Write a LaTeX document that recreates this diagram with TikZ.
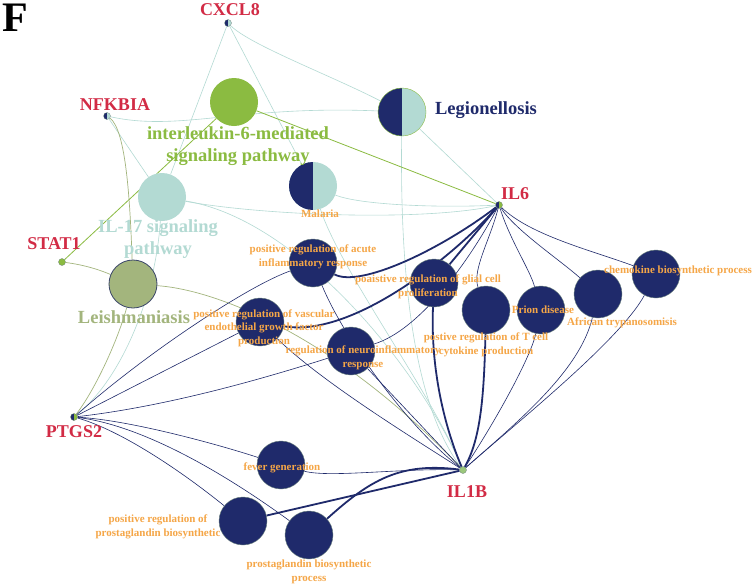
\documentclass[tikz,border=0pt]{standalone}
\usepackage{fontspec}
\setmainfont{Liberation Serif}
\usetikzlibrary{backgrounds}
\definecolor{cNavy}{HTML}{1F2A6B}
\definecolor{cTeal}{HTML}{B3DAD3}
\definecolor{cGreen}{HTML}{8BBB41}
\definecolor{cOlive}{HTML}{A3B57D}
\definecolor{cRed}{HTML}{D22B45}
\definecolor{cOrange}{HTML}{F5A647}
\definecolor{cOutline}{HTML}{6F8580}
\definecolor{cLeishLine}{HTML}{3A4568}
\tikzset{
  term/.style={circle, minimum size=48pt, inner sep=0pt, draw=cOutline, line width=0.4pt, fill=cNavy},
  halfnavy/.style={path picture={\fill[cNavy] (path picture bounding box.south west) rectangle (path picture bounding box.north);}},
  gene/.style={circle, minimum size=7pt, inner sep=0pt, draw=cOutline, line width=0.3pt},
  genelab/.style={text=cRed, font=\fontsize{18}{20}\selectfont\bfseries, inner sep=0pt},
  golab/.style={text=cOrange, font=\fontsize{11}{13.5}\selectfont\bfseries, align=center, inner sep=0pt},
  biglab/.style={font=\fontsize{18.5}{22}\selectfont\bfseries, align=center, inner sep=0pt},
  tealE/.style={draw=cTeal, line width=0.6pt},
  greenE/.style={draw=cGreen, line width=0.8pt},
  oliveE/.style={draw=cOlive, line width=0.7pt},
  navyE/.style={draw=cNavy, line width=0.6pt},
  navyT/.style={draw=cNavy, line width=1.8pt}
}
\begin{document}
\begin{tikzpicture}[x=1pt, y=-1pt]
\useasboundingbox (0,0) rectangle (755,587);
% gene nodes
\node[gene, fill=cTeal, halfnavy] (cxcl8) at (228,23) {};
\node[gene, fill=cTeal, halfnavy] (nfkbia) at (107,116) {};
\node[gene, fill=cGreen] (stat1) at (62,262) {};
\node[gene, fill=cGreen, halfnavy] (il6) at (499,205) {};
\node[gene, fill=cGreen, halfnavy] (ptgs2) at (74,417) {};
\node[gene, fill=cGreen!60!cTeal] (il1b) at (463,470) {};
% pathway circles
\node[term, fill=cGreen, draw=none] (il6p) at (234,102) {};
\node[term, fill=cTeal, draw=cGreen, halfnavy] (legio) at (402,112) {};
\node[term, fill=cTeal, draw=none, halfnavy] (malaria) at (313,186) {};
\node[term, fill=cTeal, draw=none] (il17) at (162,197) {};
\node[term, fill=cOlive, draw=cLeishLine, line width=0.8pt] (leish) at (133,284) {};
\node[term] (acute) at (313,263) {};
\node[term] (glial) at (434,283) {};
\node[term] (vasc) at (260,322) {};
\node[term] (neuro) at (351,351) {};
\node[term] (tcell) at (486,310) {};
\node[term] (prion) at (541,310) {};
\node[term] (afr) at (598,294) {};
\node[term] (chemo) at (656,274) {};
\node[term] (fever) at (281,465) {};
\node[term] (pgreg) at (243,521) {};
\node[term] (pgproc) at (309,535) {};
% edges
\begin{scope}[on background layer]
\fill[white] (0,0) rectangle (755,587);
\draw[tealE] (cxcl8) -- (il17);
\draw[tealE] (cxcl8) -- (malaria);
\draw[tealE] (cxcl8) .. controls (250,45) and (330,75) .. (legio);
\draw[tealE] (nfkbia) .. controls (180,132) and (240,105) .. (legio);
\draw[tealE] (nfkbia) -- (il17);
\draw[tealE] (il17) .. controls (155,300) and (120,380) .. (ptgs2);
\draw[tealE] (il17) .. controls (260,215) and (420,222) .. (il6);
\draw[tealE] (malaria) .. controls (360,205) and (440,208) .. (il6);
\draw[tealE] (il17) .. controls (300,220) and (420,370) .. (il1b);
\draw[tealE] (malaria) .. controls (340,270) and (430,390) .. (il1b);
\draw[tealE] (legio) .. controls (400,260) and (410,400) .. (il1b);
\draw[tealE] (legio) -- (il6);
\draw[greenE] (stat1) -- (il6p);
\draw[greenE] (il6p) -- (il6);
\draw[oliveE] (nfkbia) .. controls (126,130) and (130,200) .. (leish);
\draw[oliveE] (stat1) .. controls (85,265) and (100,270) .. (leish);
\draw[oliveE] (leish) .. controls (118,340) and (95,390) .. (ptgs2);
\draw[oliveE] (leish) .. controls (220,290) and (340,340) .. (il1b);
\draw[navyE] (ptgs2) .. controls (150,350) and (250,285) .. (acute);
\draw[navyE] (ptgs2) -- (vasc);
\draw[navyE] (ptgs2) .. controls (180,405) and (290,370) .. (neuro);
\draw[navyE] (ptgs2) .. controls (130,420) and (220,445) .. (fever);
\draw[navyE] (ptgs2) .. controls (120,430) and (180,470) .. (pgreg);
\draw[navyE] (ptgs2) .. controls (140,425) and (220,470) .. (pgproc);
\draw[navyE] (fever) .. controls (330,478) and (400,468) .. (il1b);
\draw[navyE] (acute) .. controls (340,330) and (400,420) .. (il1b);
\draw[navyE] (vasc) .. controls (320,380) and (400,430) .. (il1b);
\draw[navyE] (neuro) -- (il1b);
\draw[navyE] (il6) .. controls (470,260) and (420,330) .. (neuro);
\draw[navyE] (il6) .. controls (490,240) and (472,270) .. (tcell);
\draw[navyE] (il6) .. controls (510,240) and (530,270) .. (prion);
\draw[navyE] (il6) .. controls (515,230) and (560,260) .. (afr);
\draw[navyE] (il6) .. controls (530,235) and (590,250) .. (chemo);
\draw[navyE] (prion) .. controls (530,360) and (490,430) .. (il1b);
\draw[navyE] (afr) .. controls (580,370) and (520,420) .. (il1b);
\draw[navyE] (chemo) .. controls (620,340) and (520,420) .. (il1b);
\draw[navyT] (acute) .. controls (360,288) and (440,250) .. (il6);
\draw[navyT] (vasc) .. controls (350,338) and (450,260) .. (il6);
\draw[navyT] (glial) -- (il6);
\draw[navyT] (glial) .. controls (430,380) and (450,440) .. (il1b);
\draw[navyT] (tcell) .. controls (484,400) and (480,440) .. (il1b);
\draw[navyT] (pgreg) -- (il1b);
\draw[navyT] (pgproc) .. controls (370,480) and (400,462) .. (il1b);
\end{scope}
% labels
\node[font=\fontsize{42}{42}\selectfont\bfseries, inner sep=0pt] (flab) at (15,18) {F};
\node[genelab] (cxcl8l) at (230,10) {CXCL8};
\node[genelab] (nfkbial) at (115,105) {NFKBIA};
\node[genelab] (stat1l) at (54,244) {STAT1};
\node[genelab] (il6l) at (515,194) {IL6};
\node[genelab] (ptgs2l) at (74,432) {PTGS2};
\node[genelab] (il1bl) at (467,492) {IL1B};
\node[biglab, text=cGreen] (il6pl) at (238,146) {interleukin-6-mediated\\signaling pathway};
\node[biglab, text=cNavy] (legiol) at (486,110) {Legionellosis};
\node[biglab, text=cTeal] (il17l) at (158,239) {IL-17 signaling\\pathway};
\node[biglab, text=cOlive] (leishl) at (134,317) {Leishmaniasis};
\node[golab] (malarial) at (320,214) {Malaria};
\node[golab] (acutel) at (313,257) {positive regulation of acute\\inflammatory response};
\node[golab] (gliall) at (428,287) {poaistive regulation of glial cell\\proliferation};
\node[golab] (vascl) at (264,328) {positive regulation of vascular\\endothelial growth factor\\production};
\node[golab] (neurol) at (363,358) {regulation of neuroinflammatory\\response};
\node[golab] (tcelll) at (486,345) {postive regulation of T cell\\cytokine production};
\node[golab] (prionl) at (543,310) {Prion disease};
\node[golab] (afrl) at (622,323) {African trypanosomisis};
\node[golab] (chemol) at (678,271) {chemokine biosynthetic process};
\node[golab] (feverl) at (282,468) {fever generation};
\node[golab] (pgregl) at (158,527) {positive regulation of\\prostaglandin biosynthetic};
\node[golab] (pgprocl) at (309,572) {prostaglandin biosynthetic\\process};
\end{tikzpicture}
\end{document}
